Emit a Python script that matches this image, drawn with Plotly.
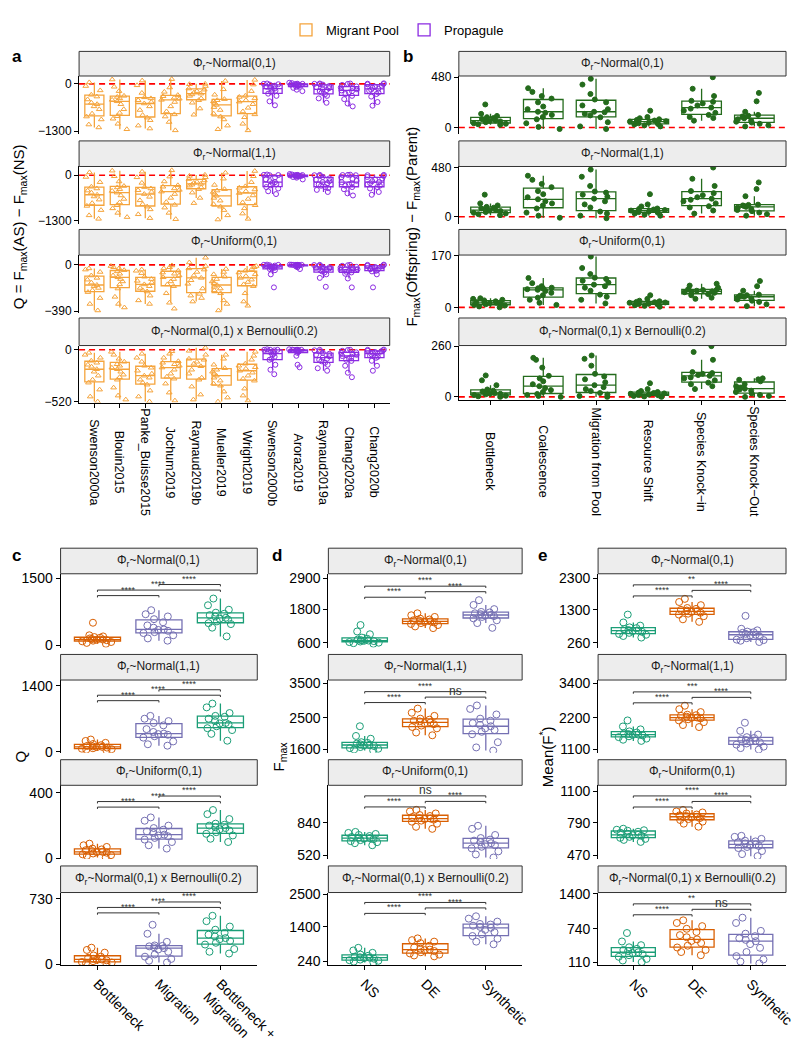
import plotly.graph_objects as go

W, H = 800, 1047
FONT = "Liberation Sans, Arial, Helvetica, sans-serif"

# ------------------------------------------------------------------ data
dist_labels = ["Φ<sub>r</sub>~Normal(0,1)", "Φ<sub>r</sub>~Normal(1,1)",
               "Φ<sub>r</sub>~Uniform(0,1)", "Φ<sub>r</sub>~Normal(0,1) x Bernoulli(0.2)"]

studies_pool = ["Swenson2000a", "Blouin2015", "Panke_Buisse2015", "Jochum2019",
                "Raynaud2019b", "Mueller2019", "Wright2019"]
studies_prop = ["Swenson2000b", "Arora2019", "Raynaud2019a", "Chang2020a", "Chang2020b"]

a_pool_n01 = [
    [-1200, -1120, -980, -900, -820, -700, -620, -560, -520, -430, -350, -300, -180, -60, 40],
    [-1250, -1100, -960, -890, -800, -700, -560, -480, -440, -400, -360, -330, -200, -80, 120],
    [-1230, -1150, -1000, -930, -860, -720, -620, -540, -500, -450, -400, -370, -250, -40, 90],
    [-1280, -1050, -900, -840, -760, -620, -500, -440, -410, -380, -340, -310, -220, -100, 130],
    [-850, -680, -520, -450, -400, -330, -290, -270, -240, -200, -160, -130, -60, -10, 0],
    [-1250, -1150, -980, -900, -820, -720, -640, -580, -520, -480, -450, -420, -300, -150, 80],
    [-1280, -1100, -920, -840, -760, -660, -560, -490, -450, -400, -360, -330, -200, -20, 110],
]
a_prop_n01 = [
    [-590, -480, -330, -270, -230, -190, -160, -130, -110, -80, -50, -20, -10, 0, 10],
    [-200, -160, -110, -80, -60, -45, -35, -28, -20, -12, -5, 0, 5, 20, 30],
    [-520, -400, -330, -290, -240, -200, -170, -150, -120, -90, -60, -20, -10, 0, 10],
    [-620, -540, -420, -330, -280, -240, -200, -180, -150, -120, -100, -70, -30, 0, 10],
    [-600, -500, -350, -280, -240, -190, -160, -135, -110, -80, -50, -15, -5, 5, 15],
]
a_pool_n11 = [
    [-1250, -1150, -1000, -880, -800, -700, -610, -560, -500, -440, -380, -330, -200, -50, 80],
    [-1200, -1080, -950, -860, -780, -680, -580, -500, -450, -400, -350, -310, -180, -30, 130],
    [-1230, -1120, -980, -900, -830, -720, -620, -540, -480, -430, -380, -340, -220, -60, 100],
    [-1260, -1080, -930, -850, -770, -650, -540, -470, -420, -380, -330, -290, -180, -40, 140],
    [-800, -650, -500, -400, -350, -300, -270, -250, -220, -190, -150, -110, -60, -20, 10],
    [-1270, -1150, -1000, -900, -830, -730, -650, -590, -530, -480, -440, -400, -280, -100, 70],
    [-1250, -1100, -950, -860, -780, -680, -580, -510, -460, -410, -360, -320, -200, -30, 120],
]
a_prop_n11 = [
    [-540, -460, -380, -340, -290, -250, -220, -200, -170, -120, -60, 0, 5, 10, 20],
    [-120, -70, -50, -40, -30, -22, -15, -10, -5, 0, 0, 5, 10, 20, 35],
    [-480, -420, -370, -340, -300, -260, -230, -200, -170, -130, -90, -50, -20, 0, 10],
    [-580, -520, -400, -340, -300, -260, -230, -200, -160, -110, -60, 0, 5, 10, 15],
    [-560, -480, -380, -340, -300, -260, -230, -200, -170, -130, -90, -50, -20, 0, 10],
]
a_pool_unif = [
    [-385, -330, -280, -230, -215, -195, -180, -170, -150, -125, -110, -90, -60, -40, -30],
    [-360, -330, -270, -200, -165, -140, -120, -105, -90, -75, -55, -45, -30, -20, -10],
    [-330, -300, -260, -225, -215, -195, -180, -165, -150, -135, -120, -100, -70, -50, -40],
    [-370, -320, -240, -180, -165, -140, -120, -105, -90, -75, -65, -50, -30, -20, -5],
    [-310, -280, -260, -245, -200, -160, -130, -110, -90, -60, -40, -30, -10, 20, 60],
    [-385, -330, -300, -240, -215, -200, -185, -170, -155, -140, -120, -100, -80, -60, -35],
    [-345, -310, -240, -180, -165, -145, -125, -110, -95, -80, -65, -50, -35, -20, -10],
]
a_prop_unif = [
    [-190, -80, -45, -36, -30, -25, -20, -17, -14, -10, -6, -3, 0, 0, 2],
    [-35, -20, -12, -8, -5, -3, -2, -1, 0, 0, 0, 0, 0, 1, 2],
    [-185, -110, -80, -64, -55, -45, -40, -36, -30, -25, -20, -17, -8, -2, 0],
    [-190, -115, -75, -64, -58, -50, -46, -42, -38, -30, -24, -17, -8, -3, 0],
    [-190, -80, -55, -50, -42, -36, -32, -28, -24, -18, -12, -8, -3, 0, 2],
]
a_pool_bern = [
    [-520, -470, -400, -330, -300, -260, -220, -195, -170, -150, -130, -110, -80, -50, -30],
    [-500, -460, -380, -300, -275, -250, -220, -195, -180, -160, -145, -120, -90, -50, -20],
    [-520, -470, -410, -350, -330, -300, -280, -260, -240, -210, -180, -160, -120, -80, -40],
    [-510, -430, -340, -290, -270, -240, -200, -178, -160, -145, -130, -115, -80, -40, -15],
    [-500, -450, -370, -300, -280, -240, -200, -165, -140, -120, -100, -90, -50, -10, 20],
    [-520, -480, -420, -360, -340, -310, -280, -260, -240, -220, -200, -185, -150, -90, -50],
    [-510, -460, -390, -310, -290, -260, -230, -210, -190, -175, -160, -140, -100, -60, -20],
]
a_prop_bern = [
    [-245, -200, -150, -100, -90, -70, -50, -38, -25, -15, -5, 0, 0, 0, 5],
    [-175, -150, -60, -30, -20, -15, -10, -5, -2, 0, 0, 0, 0, 2, 5],
    [-210, -185, -150, -130, -115, -100, -90, -78, -65, -50, -40, -30, -15, -5, 0],
    [-275, -230, -160, -111, -100, -85, -70, -62, -50, -40, -30, -25, -10, -2, 0],
    [-210, -160, -110, -80, -70, -58, -45, -39, -30, -22, -15, -10, -5, 0, 2],
]

b_methods = ["Bottleneck", "Coalescence", "Migration from Pool", "Resource Shift",
             "Species Knock−in", "Species Knock−Out"]
b_n01 = [
    [25, 30, 35, 40, 50, 58, 62, 66, 72, 80, 90, 98, 110, 130, 220],
    [-15, 5, 40, 78, 100, 120, 140, 150, 175, 200, 240, 276, 300, 340, 375],
    [-15, 10, 50, 97, 115, 130, 145, 150, 175, 210, 240, 267, 320, 410, 465],
    [10, 20, 28, 33, 40, 48, 52, 56, 60, 66, 72, 78, 88, 100, 160],
    [65, 90, 100, 120, 140, 160, 180, 190, 210, 230, 245, 255, 300, 370, 480],
    [10, 20, 35, 47, 55, 65, 78, 88, 95, 105, 112, 120, 150, 250, 330],
]
b_n11 = [
    [15, 25, 32, 38, 45, 55, 60, 64, 70, 80, 88, 96, 110, 130, 215],
    [-10, 10, 40, 80, 110, 130, 150, 170, 190, 220, 250, 288, 320, 360, 400],
    [-15, 10, 30, 50, 90, 120, 150, 176, 195, 215, 235, 246, 300, 390, 460],
    [10, 20, 30, 40, 45, 50, 55, 60, 65, 70, 75, 80, 100, 120, 220],
    [30, 60, 90, 102, 130, 150, 165, 176, 190, 210, 230, 250, 300, 370, 480],
    [10, 25, 40, 54, 65, 75, 88, 96, 105, 110, 115, 118, 200, 270, 335],
]
b_unif = [
    [0, 3, 6, 8, 10, 12, 14, 15, 16, 18, 20, 23, 25, 28, 30],
    [8, 15, 25, 32, 40, 48, 54, 58, 60, 62, 63, 65, 70, 80, 97],
    [13, 25, 35, 42, 55, 65, 70, 75, 82, 88, 94, 98, 110, 130, 168],
    [2, 5, 7, 9, 11, 13, 14, 15, 16, 17, 18, 20, 22, 28, 40],
    [28, 32, 40, 44, 48, 50, 52, 53, 55, 57, 58, 60, 65, 72, 78],
    [4, 10, 18, 22, 26, 30, 33, 35, 37, 39, 40, 42, 55, 70, 87],
]
b_bern = [
    [0, 3, 6, 10, 13, 16, 18, 20, 24, 28, 32, 38, 60, 85, 110],
    [0, 5, 10, 15, 25, 35, 45, 55, 65, 80, 95, 108, 150, 190, 200],
    [0, 5, 12, 20, 30, 40, 50, 60, 75, 90, 105, 118, 160, 195, 212],
    [0, 2, 5, 8, 10, 12, 14, 16, 18, 20, 22, 25, 30, 40, 70],
    [40, 55, 65, 73, 85, 95, 100, 108, 112, 118, 122, 127, 190, 230, 260],
    [0, 5, 10, 18, 25, 32, 38, 42, 48, 55, 65, 80, 88, 90, 95],
]

c_groups = ["Bottleneck", "Migration", "Bottleneck +<br>Migration"]
c_n01 = [
    [40, 60, 80, 95, 110, 120, 130, 135, 145, 160, 175, 190, 205, 230, 510],
    [110, 160, 230, 280, 300, 330, 350, 360, 400, 450, 520, 590, 650, 700, 790],
    [205, 400, 480, 500, 540, 580, 600, 620, 650, 680, 710, 735, 800, 900, 1050],
]
c_n11 = [
    [30, 45, 55, 65, 75, 90, 100, 105, 115, 125, 140, 165, 190, 230, 260],
    [130, 160, 220, 300, 330, 360, 375, 385, 420, 480, 560, 610, 650, 700, 760],
    [235, 380, 460, 500, 540, 580, 600, 610, 650, 700, 740, 760, 820, 940, 1020],
]
c_unif = [
    [5, 15, 20, 25, 30, 35, 38, 40, 45, 50, 55, 60, 70, 80, 90],
    [60, 80, 100, 115, 125, 135, 140, 145, 155, 165, 175, 185, 200, 230, 250],
    [100, 120, 140, 150, 160, 170, 178, 185, 190, 200, 205, 212, 240, 270, 295],
]
c_bern = [
    [5, 12, 20, 26, 35, 45, 50, 55, 62, 72, 85, 99, 130, 160, 185],
    [20, 40, 60, 85, 110, 140, 165, 180, 190, 200, 205, 210, 250, 340, 440],
    [120, 140, 170, 220, 240, 260, 280, 292, 310, 330, 350, 385, 420, 480, 540],
]

de_groups = ["NS", "DE", "Synthetic"]
d_n01 = [
    [560, 580, 600, 620, 640, 655, 665, 675, 690, 710, 740, 780, 900, 1000, 1230],
    [1120, 1180, 1230, 1270, 1300, 1320, 1340, 1360, 1380, 1400, 1430, 1460, 1520, 1580, 1650],
    [1130, 1300, 1400, 1470, 1520, 1550, 1570, 1590, 1620, 1650, 1680, 1700, 1800, 1950, 2120],
]
d_n11 = [
    [1560, 1590, 1610, 1630, 1660, 1690, 1710, 1720, 1740, 1760, 1780, 1800, 1900, 1980, 2260],
    [2000, 2080, 2200, 2240, 2280, 2320, 2350, 2370, 2400, 2420, 2450, 2480, 2560, 2650, 2770],
    [1560, 1650, 1800, 2030, 2100, 2150, 2200, 2260, 2300, 2350, 2420, 2480, 2600, 2760, 2860],
]
d_unif = [
    [620, 640, 650, 660, 670, 680, 685, 690, 695, 700, 710, 720, 730, 740, 750],
    [780, 800, 830, 850, 860, 870, 875, 880, 885, 895, 905, 915, 930, 950, 965],
    [500, 530, 560, 590, 605, 620, 630, 640, 650, 665, 675, 690, 720, 780, 810],
]
d_bern = [
    [190, 220, 250, 270, 290, 320, 340, 355, 370, 390, 420, 460, 520, 600, 690],
    [400, 430, 460, 500, 540, 580, 610, 630, 660, 700, 760, 850, 900, 950, 1010],
    [810, 900, 1000, 1090, 1150, 1220, 1300, 1370, 1400, 1440, 1480, 1500, 1580, 1680, 1760],
]

e_n01 = [
    [420, 470, 510, 535, 570, 600, 625, 640, 660, 690, 720, 745, 800, 900, 1150],
    [920, 1000, 1100, 1150, 1180, 1210, 1235, 1255, 1280, 1300, 1330, 1360, 1450, 1550, 1650],
    [280, 320, 340, 355, 400, 450, 490, 510, 540, 570, 590, 610, 650, 700, 1110],
]
e_n11 = [
    [1400, 1440, 1480, 1530, 1560, 1590, 1610, 1620, 1640, 1660, 1690, 1730, 1800, 1900, 2110],
    [1880, 1950, 2050, 2110, 2150, 2180, 2200, 2210, 2240, 2270, 2290, 2310, 2400, 2500, 2620],
    [1100, 1150, 1200, 1270, 1310, 1350, 1380, 1400, 1430, 1460, 1500, 1530, 1620, 1750, 2030],
]
e_unif = [
    [600, 620, 630, 640, 650, 660, 665, 670, 680, 690, 700, 710, 715, 720, 730],
    [750, 780, 800, 816, 825, 835, 842, 848, 855, 862, 870, 880, 890, 900, 915],
    [460, 480, 510, 540, 550, 560, 570, 575, 585, 595, 605, 612, 630, 650, 660],
]
e_bern = [
    [110, 140, 170, 210, 240, 260, 280, 296, 320, 340, 360, 390, 430, 500, 660],
    [240, 300, 340, 386, 420, 470, 510, 540, 580, 620, 680, 740, 790, 850, 900],
    [85, 120, 160, 223, 300, 380, 450, 505, 530, 560, 600, 647, 700, 850, 950],
]

# significance labels per row: {(i, j): label}
c_sig = [{(0, 1): "****", (0, 2): "****", (1, 2): "****"}] * 4
d_sig = [{(0, 1): "****", (1, 2): "****", (0, 2): "****"},
         {(0, 1): "****", (1, 2): "ns", (0, 2): "****"},
         {(0, 1): "****", (1, 2): "****", (0, 2): "ns"},
         {(0, 1): "****", (1, 2): "****", (0, 2): "****"}]
e_sig = [{(0, 1): "****", (1, 2): "****", (0, 2): "**"},
         {(0, 1): "****", (1, 2): "****", (0, 2): "***"},
         {(0, 1): "****", (1, 2): "****", (0, 2): "****"},
         {(0, 1): "****", (1, 2): "ns", (0, 2): "**"}]

# axis settings
a_ranges = [[-1381, 217], [-1385, 250], [-407, 83], [-530, 43]]
a_ticks = [[-1300, 0], [-1300, 0], [-390, 0], [-520, 0]]
b_ranges = [[-63, 492], [-67, 490], [-19, 173], [-14, 263]]
b_ticks = [[0, 480], [0, 480], [0, 170], [0, 260]]
c_ranges = [[-44, 1603], [-21, 1518], [-4, 446], [-11, 799]]
c_ticks = [[0, 1500], [0, 1400], [0, 400], [0, 730]]
d_ranges = [[424, 3065], [1494, 3594], [485, 1205], [96, 2567]]
d_ticks = [[600, 1800, 2900], [1600, 2500, 3500], [520, 840], [240, 1400, 2500]]
e_ranges = [[103, 2447], [986, 3512], [431, 1158], [49, 1426]]
e_ticks = [[260, 1300, 2300], [1100, 2200, 3400], [470, 790, 1100], [110, 740, 1400]]

# ------------------------------------------------------------------ styling
ORANGE = "#F5A43C"
PURPLE = "#8B2BE2"
GREEN = "#246B1C"
C_COLS = ["#D95F02", "#7570B3", "#1B9E77"]
DE_COLS = ["#1B9E77", "#D95F02", "#7570B3"]

AB_STRIPS = [(37, 62), (128, 154), (218, 244), (308, 336)]
A_PLOTS = [(62, 121), (154, 212), (244, 303), (336, 394)]
B_PLOTS = [(62, 121), (154, 212), (244, 303), (336, 391)]
CDE_STRIPS = [(542, 568), (650, 676), (757, 783), (865, 892)]
CDE_PLOTS = [(568, 643), (676, 750), (783, 858), (892, 966)]
A_X = (73, 392)
B_X = (463, 799)
C_X = (54, 256)
D_X = (329, 528)
E_X = (606, 799)

fig = go.Figure()
layout = {}
shapes = []
annotations = []
counter = [0]


def new_axes(xpx, ypx, cats, yrange, ytick, bottom, tickfs, show_xlabels):
    counter[0] += 1
    n = counter[0]
    s = "" if n == 1 else str(n)
    layout["xaxis" + s] = dict(
        domain=[xpx[0] / W, xpx[1] / W], anchor="y" + s, type="category",
        categoryorder="array", categoryarray=cats, range=[-0.6, len(cats) - 0.4],
        showline=bottom, linecolor="black", linewidth=1.1,
        ticks="outside" if bottom else "", ticklen=4, tickcolor="black", tickwidth=1.1,
        showticklabels=bool(bottom and show_xlabels), tickangle=45,
        tickfont=dict(size=14, color="black", family=FONT),
        showgrid=False, zeroline=False)
    layout["yaxis" + s] = dict(
        domain=[1 - ypx[1] / H, 1 - ypx[0] / H], anchor="x" + s, range=yrange,
        tickmode="array", tickvals=ytick, showline=True, linecolor="black", linewidth=1.1,
        ticks="outside", ticklen=4, tickcolor="black", tickwidth=1.1,
        tickfont=dict(size=tickfs, color="black", family=FONT),
        showgrid=False, zeroline=False)
    return "x" + s, "y" + s


def add_strip(xpx, spx, text):
    shapes.append(dict(type="rect", xref="paper", yref="paper",
                       x0=xpx[0] / W, x1=xpx[1] / W, y0=1 - spx[1] / H, y1=1 - spx[0] / H,
                       fillcolor="#EDEDED", line=dict(color="#333333", width=1), layer="above"))
    annotations.append(dict(xref="paper", yref="paper", x=(xpx[0] + xpx[1]) / 2 / W,
                            y=1 - (spx[0] + spx[1]) / 2 / H, text=text, showarrow=False,
                            xanchor="center", yanchor="middle",
                            font=dict(size=12, family=FONT, color="#1a1a1a")))


def zero_line(xr, yr):
    shapes.append(dict(type="line", xref=xr + " domain", x0=0, x1=1, yref=yr, y0=0, y1=0,
                       line=dict(color="#FF0000", width=1.6, dash="6px,4px"), layer="below"))


def flat(cats, lists):
    xs, ys = [], []
    for c, v in zip(cats, lists):
        xs += [c] * len(v)
        ys += v
    return xs, ys


def box(xs, ys, xr, yr, color, symbol, size, name=None, legend=False, group=None, jitter=0.8):
    return go.Box(x=xs, y=ys, xaxis=xr, yaxis=yr, name=name or "", legendgroup=group,
                  showlegend=legend, line=dict(color=color, width=1.3),
                  fillcolor="rgba(0,0,0,0)", boxpoints="all", jitter=jitter, pointpos=0,
                  whiskerwidth=0, width=0.75,
                  marker=dict(symbol=symbol, size=size, color=color,
                              line=dict(width=1.0, color=color)))


# ------------------------------------------------------------------ panel a
all_studies = studies_pool + studies_prop
a_pool = [a_pool_n01, a_pool_n11, a_pool_unif, a_pool_bern]
a_prop = [a_prop_n01, a_prop_n11, a_prop_unif, a_prop_bern]
for r in range(4):
    xr, yr = new_axes(A_X, A_PLOTS[r], all_studies, a_ranges[r], a_ticks[r], r == 3, 12, False)
    add_strip(A_X, AB_STRIPS[r], dist_labels[r])
    zero_line(xr, yr)
    xs, ys = flat(studies_pool, a_pool[r])
    fig.add_trace(box(xs, ys, xr, yr, ORANGE, "triangle-up-open", 5,
                      "Migrant Pool", r == 0, "pool", 1.0))
    xs, ys = flat(studies_prop, a_prop[r])
    fig.add_trace(box(xs, ys, xr, yr, PURPLE, "circle-open", 5,
                      "Propagule", r == 0, "prop", 1.0))
    if r == 3:
        for s in all_studies:
            annotations.append(dict(xref=xr, x=s, yref="paper", y=1 - 455 / H, text=s,
                                    textangle=90, showarrow=False, xanchor="center",
                                    yanchor="middle", font=dict(size=12.5, family=FONT, color="black")))

# ------------------------------------------------------------------ panel b
b_data = [b_n01, b_n11, b_unif, b_bern]
for r in range(4):
    xr, yr = new_axes(B_X, B_PLOTS[r], b_methods, b_ranges[r], b_ticks[r], r == 3, 12, False)
    add_strip(B_X, AB_STRIPS[r], dist_labels[r])
    zero_line(xr, yr)
    xs, ys = flat(b_methods, b_data[r])
    fig.add_trace(box(xs, ys, xr, yr, GREEN, "circle", 5, jitter=1.0))
    if r == 3:
        for m in b_methods:
            annotations.append(dict(xref=xr, x=m, yref="paper", y=1 - 454 / H, text=m,
                                    textangle=90, showarrow=False, xanchor="center",
                                    yanchor="middle", font=dict(size=12.5, family=FONT, color="black")))


# ------------------------------------------------------------------ panels c, d, e
def add_brackets(xr, yr, cats, data, yrange, sig, order):
    span = yrange[1] - yrange[0]
    top = max(max(v) for v in data)
    base = top + 0.04 * span
    step = 0.075 * span
    tip = 0.025 * span
    bx, by = [], []
    for k, (i, j) in enumerate(order):
        yb = base + k * step
        bx += [cats[i], cats[i], cats[j], cats[j], None]
        by += [yb - tip, yb, yb, yb - tip, None]
        lab = sig[(i, j)]
        annotations.append(dict(xref=xr, yref=yr, x=(i + j) / 2, y=yb, text=lab,
                                showarrow=False, xanchor="center", yanchor="bottom",
                                yshift=-1 if lab != "ns" else -3,
                                font=dict(size=9 if lab != "ns" else 12, family=FONT, color="#333333")))
    fig.add_trace(go.Scatter(x=bx, y=by, xaxis=xr, yaxis=yr, mode="lines", showlegend=False,
                             line=dict(color="#333333", width=1), hoverinfo="skip"))


panels = [
    (C_X, c_groups, C_COLS, [c_n01, c_n11, c_unif, c_bern], c_ranges, c_ticks, c_sig,
     [(0, 1), (0, 2), (1, 2)]),
    (D_X, de_groups, DE_COLS, [d_n01, d_n11, d_unif, d_bern], d_ranges, d_ticks, d_sig,
     [(0, 1), (1, 2), (0, 2)]),
    (E_X, de_groups, DE_COLS, [e_n01, e_n11, e_unif, e_bern], e_ranges, e_ticks, e_sig,
     [(0, 1), (1, 2), (0, 2)]),
]
for px, cats, cols, rows, rngs, ticks, sigs, order in panels:
    for r in range(4):
        xr, yr = new_axes(px, CDE_PLOTS[r], cats, rngs[r], ticks[r], r == 3, 14, True)
        add_strip(px, CDE_STRIPS[r], dist_labels[r])
        for cat, col, vals in zip(cats, cols, rows[r]):
            fig.add_trace(box([cat] * len(vals), vals, xr, yr, col, "circle-open", 7))
        add_brackets(xr, yr, cats, rows[r], rngs[r], sigs[r], order)

# ------------------------------------------------------------------ titles & letters
def yt(x, y, text):
    annotations.append(dict(xref="paper", yref="paper", x=x / W, y=1 - y / H, text=text,
                            textangle=-90, showarrow=False, xanchor="center", yanchor="middle",
                            font=dict(size=15, family=FONT, color="black")))


yt(12, 215, "Q = F<sub>max</sub>(AS) − F<sub>max</sub>(NS)")
yt(415, 215, "F<sub>max</sub>(Offspring) − F<sub>max</sub>(Parent)")
yt(13, 754, "Q")
yt(279, 754, "F<sub>max</sub>")
yt(553, 754, "Mean(F<sup>*</sup>)")

for lab, x, y in [("a", 9, 42), ("b", 411, 42), ("c", 9, 549), ("d", 276, 549), ("e", 549, 549)]:
    annotations.append(dict(xref="paper", yref="paper", x=x / W, y=1 - y / H,
                            text="<b>" + lab + "</b>", showarrow=False, xanchor="center",
                            yanchor="middle", font=dict(size=17, family=FONT, color="black")))

fig.update_layout(
    width=W, height=H, margin=dict(l=0, r=0, t=0, b=0),
    paper_bgcolor="white", plot_bgcolor="white",
    font=dict(family=FONT, color="black"),
    boxmode="overlay",
    legend=dict(orientation="h", x=0.5, xanchor="center", y=1.0, yanchor="top",
                font=dict(size=13, family=FONT), bgcolor="rgba(0,0,0,0)"),
    shapes=shapes, annotations=annotations, **layout)

fig.write_html("out.html")
